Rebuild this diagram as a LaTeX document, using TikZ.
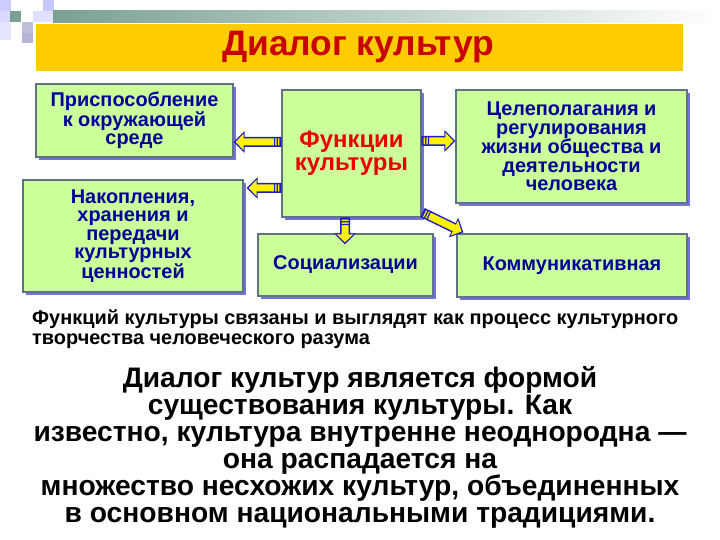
\documentclass[tikz,border=0pt]{standalone}
\usepackage{fontspec}
\setmainfont{Liberation Sans}
\usetikzlibrary{arrows.meta,shadows}
\definecolor{boxfill}{RGB}{204,255,153}
\definecolor{boxline}{RGB}{95,115,130}
\definecolor{boxtext}{RGB}{0,0,153}
\definecolor{boxshadow}{RGB}{80,80,215}
\definecolor{titlered}{RGB}{200,0,0}
\definecolor{funcred}{RGB}{235,0,0}
\definecolor{baryellow}{RGB}{255,204,0}
\definecolor{barteal}{RGB}{122,160,148}
\definecolor{arrowblue}{RGB}{30,30,200}
\begin{document}
\begin{tikzpicture}[x=1bp,y=-1bp,
    box/.style={draw=boxline, line width=1.2bp, fill=boxfill, align=center, inner sep=2bp,
      text=boxtext, font=\bfseries\fontsize{20}{18.5}\selectfont,
      drop shadow={shadow xshift=3bp, shadow yshift=-3bp, fill=boxshadow, opacity=0.8}},
    blockarrow/.style={
      preaction={draw=arrowblue, line width=10bp, shorten >=0bp, shorten <=0bp,
        -{Triangle[length=11bp,width=21bp]}},
      postaction={draw=arrowblue, line width=9bp, shorten >=0bp, shorten <=0bp, -,
        dash pattern=on 2bp off 1.5bp on 1.2bp off 1.5bp on 1.2bp off 1000bp},
      draw=yellow, line width=7bp, shorten >=2bp, shorten <=1.5bp,
      -{Triangle[length=8bp,width=16bp]}}]
  \useasboundingbox (0,0) rectangle (720,540);

  % corner squares and top bar
  \fill[blue!20] (0,0) rectangle (11,11);
  \fill[blue!15] (0,11) rectangle (11,22);
  \fill[blue!10] (0,22) rectangle (11,40);
  \fill[barteal] (10,11) rectangle (21,22);
  \fill[blue!22] (43,0) rectangle (54,11);
  \fill[blue!12] (33,11) rectangle (55,22);
  \fill[blue!28!gray!40] (22,22) rectangle (33,33);
  \fill[blue!30!gray!45] (22,33) rectangle (33,43);
  \shade[left color=barteal, right color=white] (53,11) rectangle (720,23);

  % title
  \fill[baryellow] (36,24) rectangle (683,71);
  \node[text=titlered, font=\bfseries\fontsize{35.5}{35}\selectfont] (title) at (358,47.5) {Диалог культур};

  % boxes
  \node[box, minimum width=197bp, minimum height=73bp] (adapt) at (134.5,120.5)
    {Приспособление\\к окружающей\\среде};
  \node[box, minimum width=220bp, minimum height=112bp] (store) at (133,236)
    {Накопления,\\хранения и\\передачи\\культурных\\ценностей};
  \node[box, minimum width=139bp, minimum height=127bp, text=funcred,
    font=\bfseries\fontsize{24}{23}\selectfont] (func) at (351.5,153.5)
    {Функции\\культуры};
  \node[box, minimum width=231bp, minimum height=113bp] (goal) at (571.5,146.5)
    {Целеполагания и\\регулирования\\жизни общества и\\деятельности\\человека};
  \node[box, minimum width=175bp, minimum height=62bp] (soc) at (345.5,265)
    {Социализации};
  \node[box, minimum width=230bp, minimum height=63bp] (comm) at (572,265.5)
    {Коммуникативная};

  % arrows
  \draw[blockarrow] ([yshift=11.5bp]func.west) -- ([yshift=-21.5bp]adapt.east);
  \draw[blockarrow] ([yshift=-34.5bp]func.west) -- ([xshift=3bp,yshift=48bp]store.east);
  \draw[blockarrow] ([yshift=12.5bp]func.east) -- ([yshift=5.5bp]goal.west);
  \draw[blockarrow] ([xshift=-6.5bp]func.south) -- ([xshift=-0.5bp,yshift=-11bp]soc.north);
  \draw[blockarrow] ([xshift=1bp,yshift=5bp]func.south east) -- ([xshift=7bp,yshift=1bp]comm.north west);

  % texts below
  \node[anchor=base west, align=left, inner sep=0pt,
    font=\bfseries\fontsize{20}{19.5}\selectfont] (note) at (32,344)
    {Функций культуры связаны и выглядят как процесс культурного\\творчества человеческого разума};
  \node[anchor=base, align=center, inner sep=0pt,
    font=\bfseries\fontsize{28.3}{27}\selectfont] (dialog) at (360,522)
    {Диалог культур является формой\\существования культуры. Как\\известно, культура внутренне неоднородна —\\она распадается на\\множество несхожих культур, объединенных\\в основном национальными традициями.};
\end{tikzpicture}
\end{document}
